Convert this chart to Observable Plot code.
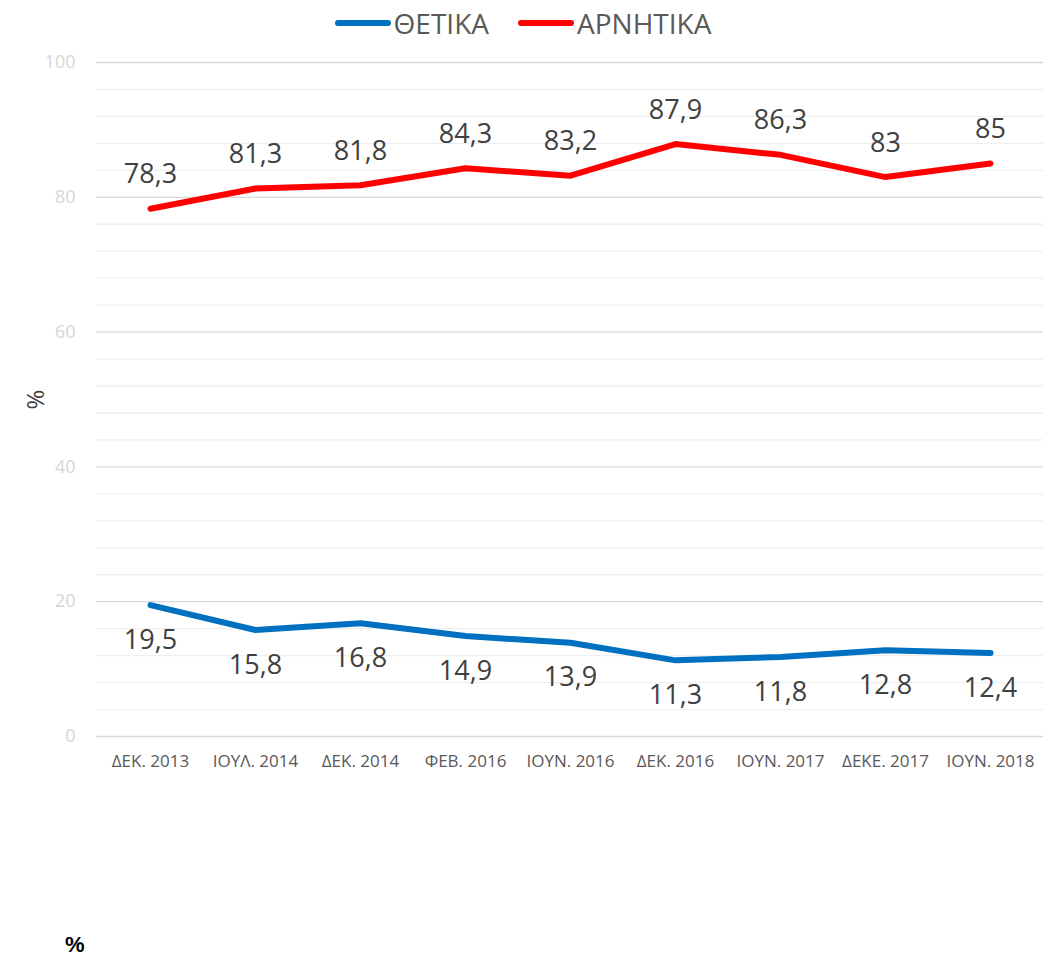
<!DOCTYPE html>
<html>
<head>
<meta charset="utf-8">
<script src="https://cdn.jsdelivr.net/npm/d3@7"></script>
<script src="https://cdn.jsdelivr.net/npm/@observablehq/plot@0.6"></script>
<style>
  body { margin: 0; background: #fff; font-family: "Open Sans", "Liberation Sans", sans-serif; }
  #wrap { position: relative; width: 1046px; height: 960px; overflow: hidden; }
  #legend { height: 45px; display: flex; justify-content: center; align-items: center; gap: 29px; padding-left: 0; box-sizing: border-box; color: #595959; font-size: 28px; }
  .item { display: flex; align-items: center; }
  .swatch { width: 56px; height: 6px; border-radius: 3px; margin-right: 3px; }
  #pct { position: absolute; left: 65px; top: 932px; font-weight: bold; font-size: 22px; color: #000; font-family: "Liberation Sans", sans-serif; }
</style>
</head>
<body>
<div id="wrap">
  <div id="legend"></div>
  <div id="chart"></div>
  <div id="pct">%</div>
</div>
<script>
const dates = ["ΔΕΚ. 2013","ΙΟΥΛ. 2014","ΔΕΚ. 2014","ΦΕΒ. 2016","ΙΟΥΝ. 2016","ΔΕΚ. 2016","ΙΟΥΝ. 2017","ΔΕΚΕ. 2017","ΙΟΥΝ. 2018"];
const positive = [19.5,15.8,16.8,14.9,13.9,11.3,11.8,12.8,12.4];
const negative = [78.3,81.3,81.8,84.3,83.2,87.9,86.3,83,85];
const seriesNames = ["ΘΕΤΙΚΑ","ΑΡΝΗΤΙΚΑ"];
const seriesColors = ["#0070C0","#FF0000"];
const yTicks = [0,20,40,60,80,100];
const yMinor = [4,8,12,16,24,28,32,36,44,48,52,56,64,68,72,76,84,88,92,96];

const posData = dates.map((d,i) => ({date: d, value: positive[i]}));
const negData = dates.map((d,i) => ({date: d, value: negative[i]}));
const fmt = v => String(v).replace(".", ",");

// legend
const legend = document.getElementById("legend");
seriesNames.forEach((n,i) => {
  const it = document.createElement("div");
  it.className = "item";
  it.innerHTML = `<span class="swatch" style="background:${seriesColors[i]}"></span><span>${n}</span>`;
  legend.appendChild(it);
});

const chart = Plot.plot({
  width: 1046,
  height: 915,
  marginTop: 17,
  marginBottom: 224,
  marginLeft: 96,
  marginRight: 3,
  style: {fontFamily: "'Open Sans', sans-serif", background: "#fff"},
  x: {type: "point", domain: dates, padding: 0.5, label: null},
  y: {domain: [0,100], label: null},
  marks: [
    Plot.ruleY(yMinor, {stroke: "#efefef", strokeWidth: 1.3}),
    Plot.ruleY(yTicks, {stroke: "#d9d9d9", strokeWidth: 1.3}),
    Plot.axisY(yTicks, {tickSize: 0, tickPadding: 21, fontSize: 18, color: "#d6d6d6", label: "%", labelAnchor: "center", labelArrow: "none", labelOffset: 70}),
    Plot.axisX({tickSize: 0, tickPadding: 18, fontSize: 17, color: "#595959"}),
    Plot.lineY(posData, {x: "date", y: "value", stroke: seriesColors[0], strokeWidth: 6, strokeLinejoin: "round", strokeLinecap: "round"}),
    Plot.lineY(negData, {x: "date", y: "value", stroke: seriesColors[1], strokeWidth: 6, strokeLinejoin: "round", strokeLinecap: "round"}),
    Plot.text(negData, {x: "date", y: "value", text: d => fmt(d.value), dy: -34, fontSize: 27, fill: "#404040"}),
    Plot.text(posData, {x: "date", y: "value", text: d => fmt(d.value), dy: 35, fontSize: 27, fill: "#404040"})
  ]
});
document.getElementById("chart").appendChild(chart);
// style y-axis label
chart.querySelectorAll("[aria-label='y-axis label'] text").forEach(t => { t.setAttribute("font-size", 24); t.setAttribute("fill", "#404040"); });
</script>
</body>
</html>
